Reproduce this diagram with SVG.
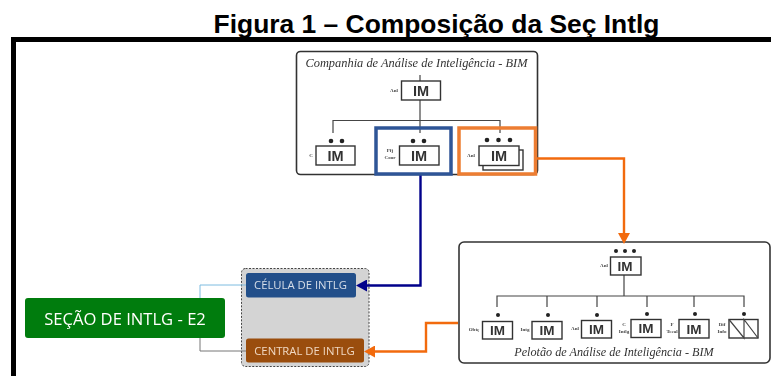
<svg xmlns="http://www.w3.org/2000/svg" width="771" height="376" viewBox="0 0 771 376">
<defs>
<style>
text{font-family:"Liberation Sans",Arial,sans-serif}
.panel{fill:#fff;stroke:#333;stroke-width:1.6}
.cap{font-family:"Liberation Serif","Times New Roman",serif;font-style:italic;fill:#333;text-anchor:middle}
.im{fill:#fff;stroke:#333;stroke-width:1.4}
.imt{font-size:14.500px;font-weight:bold;fill:#333;text-anchor:middle}
.imt2{font-size:13.500px;font-weight:bold;fill:#333;text-anchor:middle}
.lab{font-family:"Liberation Serif",serif;font-size:5px;font-weight:bold;fill:#444;text-anchor:middle}
.line{fill:none;stroke:#444;stroke-width:1.2}
.dot{fill:#222}
.btn{font-family:"Open Sans","Noto Sans",sans-serif;text-anchor:middle}
</style>
<marker id="ab" markerUnits="userSpaceOnUse" markerWidth="11" markerHeight="12" refX="0" refY="6" orient="auto"><path d="M0 0L11 6L0 12Z" fill="#00008b"/></marker>
<marker id="ao" markerUnits="userSpaceOnUse" markerWidth="11" markerHeight="12" refX="0" refY="6" orient="auto"><path d="M0 0L11 6L0 12Z" fill="#f26b0f"/></marker>
<filter id="soft" x="-2%" y="-2%" width="104%" height="104%"><feGaussianBlur stdDeviation="0.35"/></filter>
</defs>
<rect width="771" height="376" fill="#fff"/>
<text id="title" x="436.500" y="32.500" font-size="26.400" font-weight="bold" text-anchor="middle" fill="#000">Figura 1 – Composição da Seç Intlg</text>
<path id="frame" d="M13.500 376V39.500H771" fill="none" stroke="#000" stroke-width="5"/>
<g filter="url(#soft)">
<g id="companhia">
<rect class="panel" x="296.500" y="51.500" width="241" height="123" rx="4"/>
<text class="cap" x="416.500" y="67" font-size="12.400">Companhia de Análise de Inteligência - BIM</text>
<path class="line" d="M420 75V81M420 100V133M333 133V120.500H500V133"/>
<rect class="im" x="401.500" y="81" width="39" height="19"/><text class="imt" x="421" y="96">IM</text>
<text class="lab" x="394" y="92">Anl</text>
</g>
<g id="cmt-c">
<circle class="dot" cx="331" cy="141" r="2.300"/><circle class="dot" cx="342" cy="141" r="2.300"/>
<rect class="im" x="316" y="146" width="39" height="19"/><text class="imt" x="335.500" y="161">IM</text>
<text class="lab" x="311" y="157">C</text>
</g>
<g id="cmt-pfj">
<circle class="dot" cx="413" cy="141" r="2.300"/><circle class="dot" cx="424" cy="141" r="2.300"/>
<rect class="im" x="399.500" y="146" width="39.500" height="19"/><text class="imt" x="419" y="161">IM</text>
<text class="lab" x="390" y="152">Pfj</text><text class="lab" x="390" y="159">Coor</text>
</g>
<g id="cmt-anl">
<rect class="im" x="483" y="150" width="40" height="20"/>
<circle class="dot" cx="487" cy="140" r="2.300"/><circle class="dot" cx="498.500" cy="140" r="2.300"/><circle class="dot" cx="510" cy="140" r="2.300"/>
<rect class="im" x="479" y="146" width="40" height="19.500"/><text class="imt" x="499" y="161">IM</text>
<text class="lab" x="471" y="157">Anl</text>
</g>
<g id="pelotao">
<rect class="panel" x="459" y="242" width="311" height="121" rx="5"/>
<text class="cap" x="614" y="356" font-size="12.200">Pelotão de Análise de Inteligência - BIM</text>
<path class="line" d="M624 275V296M497 307V296H744V307M547 296V307M597 296V307M647 296V307M694 296V307"/>
</g>
<g id="pel-top">
<circle class="dot" cx="616" cy="251" r="2"/><circle class="dot" cx="625" cy="251" r="2"/><circle class="dot" cx="634" cy="251" r="2"/>
<rect class="im" x="610.500" y="257" width="30.500" height="18"/><text class="imt2" x="625" y="271">IM</text>
<text class="lab" x="604" y="267">Anl</text>
</g>
<g id="pel-1">
<circle class="dot" cx="498" cy="315" r="2"/>
<rect class="im" x="482.500" y="321.500" width="30" height="17.500"/><text class="imt2" x="497.500" y="335">IM</text>
<text class="lab" x="474" y="331">Obtç</text>
</g>
<g id="pel-2">
<circle class="dot" cx="548" cy="315" r="2"/>
<rect class="im" x="532" y="321.500" width="30" height="17.500"/><text class="imt2" x="547" y="335">IM</text>
<text class="lab" x="525" y="331">Intg</text>
</g>
<g id="pel-3">
<circle class="dot" cx="597" cy="315" r="2"/>
<rect class="im" x="581.500" y="320.500" width="30" height="17.500"/><text class="imt2" x="596.500" y="334">IM</text>
<text class="lab" x="575" y="330">Anl</text>
</g>
<g id="pel-4">
<circle class="dot" cx="647" cy="314" r="2"/>
<rect class="im" x="631" y="319.500" width="30" height="18"/><text class="imt2" x="646" y="333">IM</text>
<text class="lab" x="624" y="326">C</text><text class="lab" x="624" y="333">Intlg</text>
</g>
<g id="pel-5">
<circle class="dot" cx="695" cy="314" r="2"/>
<rect class="im" x="679" y="319.500" width="30" height="18.500"/><text class="imt2" x="694" y="334">IM</text>
<text class="lab" x="672" y="326">F</text><text class="lab" x="672" y="333">Tecal</text>
</g>
<g id="pel-6">
<circle class="dot" cx="744" cy="314" r="2"/>
<rect class="im" x="729" y="319.500" width="29" height="18.500"/>
<path class="line" d="M729 319.500L744 338V319.500L758 338"/>
<text class="lab" x="722" y="326">Dif</text><text class="lab" x="722" y="333">Info</text>
</g>
<g id="secao">
<rect x="25" y="298" width="200" height="40" rx="3" fill="#067c0a"/>
<text class="btn" x="125" y="325" font-size="16.600" fill="#fff">SEÇÃO DE INTLG - E2</text>
</g>
<g id="grupo">
<rect x="241.500" y="268.500" width="127.500" height="98" rx="4" fill="#d4d4d4" stroke="#444" stroke-width="1" stroke-dasharray="2 1.500"/>
</g>
<g id="celula">
<rect x="246" y="273" width="110" height="24.500" rx="2.500" fill="#24508a"/>
<text class="btn" x="300.500" y="289" font-size="11.300" fill="#d5dde8">CÉLULA DE INTLG</text>
</g>
<g id="central">
<rect x="246" y="338.500" width="118" height="24" rx="2.500" fill="#9a4d0b"/>
<text class="btn" x="304.500" y="354.500" font-size="11.300" fill="#f0d8c4">CENTRAL DE INTLG</text>
</g>
<g id="connectors">
<path d="M200 298V285H246" fill="none" stroke="#7fbce0" stroke-width="1"/>
<path d="M200 338V351H246" fill="none" stroke="#777" stroke-width="1"/>
<path d="M420.500 175V285.500H367" fill="none" stroke="#00008b" stroke-width="2.400" marker-end="url(#ab)"/>
<path d="M537 158.500H624V233" fill="none" stroke="#f26b0f" stroke-width="2.400" marker-end="url(#ao)"/>
<path d="M458 323H426V351.500H375" fill="none" stroke="#f26b0f" stroke-width="2.400" marker-end="url(#ao)"/>
</g>
<g id="destaques">
<rect x="376" y="128" width="75" height="46" fill="none" stroke="#2f5597" stroke-width="3.500"/>
<rect x="459" y="128" width="76.500" height="46" fill="none" stroke="#ed7d31" stroke-width="3.500"/>
</g>
</g>
</svg>
